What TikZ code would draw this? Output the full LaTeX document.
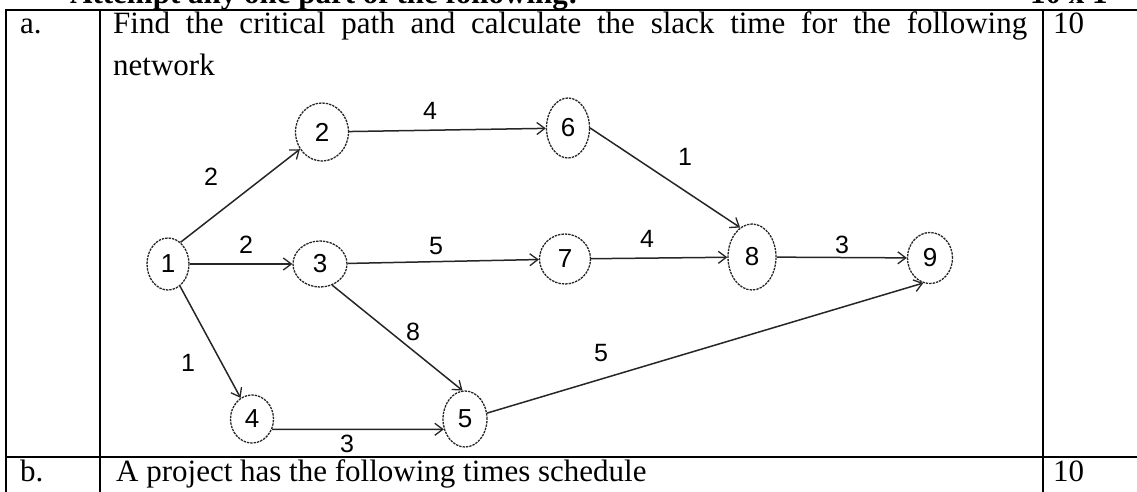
\documentclass[tikz,border=0pt]{standalone}
\usepackage{fontspec}
\setmainfont{Liberation Serif}
\newfontfamily\netfont{Liberation Sans}
\usetikzlibrary{arrows.meta,shapes.geometric}

\begin{document}
\begin{tikzpicture}[x=1pt,y=-1pt,
  rule/.style={line width=2pt},
  txt/.style={anchor=base west, inner sep=0pt, font=\fontsize{31}{37}\selectfont},
  head/.style={anchor=base west, inner sep=0pt, font=\bfseries\fontsize{31}{37}\selectfont},
  evt/.style={draw=black!85, ellipse, dash pattern=on 2.4pt off 1pt, line width=1.3pt,
              inner sep=0pt, font=\netfont\fontsize{26}{26}\selectfont},
  act/.style={draw=black!85, line width=1.5pt,
              -{Straight Barb[length=8pt,width=12pt,line width=1.3pt]}},
  dur/.style={inner sep=0pt, font=\netfont\fontsize{25}{25}\selectfont}]

\useasboundingbox (0,0) rectangle (1137,492);

% table rules
\draw[rule] (6,10) -- (1137,10);
\draw[rule] (6,457) -- (1137,457);
\draw[rule] (6,9) -- (6,492);
\draw[rule] (100,9) -- (100,492);
\draw[rule] (1043,9) -- (1043,492);

% heading (cut by the page edge)
\node[head] (hd) at (70,4) {Attempt any one part of the following:};
\node[head] (mk) at (1030,4) {10 x 1};

% row a
\node[txt] (la) at (20,34) {a.};
\node[txt] (qa) at (113,34) {\makebox[914pt][s]{Find the critical path and calculate the slack time for the following}};
\node[txt] (qa2) at (113,76) {network};
\node[txt] (ma) at (1053,34) {10};

% row b
\node[txt] (lb) at (20,481) {b.};
\node[txt] (qb) at (116,481) {A project has the following times schedule};
\node[txt] (mb) at (1053,481) {10};

% events
\node[evt, minimum width=42pt, minimum height=52pt] (n1) at (168,264) {1};
\node[evt, minimum width=53pt, minimum height=58pt] (n2) at (322,132) {2};
\node[evt, minimum width=54pt, minimum height=46pt] (n3) at (320,264) {3};
\node[evt, minimum width=43pt, minimum height=48pt] (n4) at (252,419) {4};
\node[evt, minimum width=44pt, minimum height=56pt] (n5) at (465,419) {5};
\node[evt, minimum width=43pt, minimum height=60pt] (n6) at (568,128) {6};
\node[evt, minimum width=51pt, minimum height=50pt] (n7) at (565,259) {7};
\node[evt, minimum width=48pt, minimum height=66pt] (n8) at (752,257) {8};
\node[evt, minimum width=45pt, minimum height=51pt] (n9) at (930,258) {9};

% activities
\draw[act] (n1.60) -- (n2);
\draw[act] (n1) -- (n3);
\draw[act] (n1) -- (n4);
\draw[act] (n2) -- (n6);
\draw[act] (n3) -- (n7);
\draw[act] (n3.-60) -- (n5.95);
\draw[act] (n4.-27) -- (n5.206);
\draw[act] (n5.15) -- (n9.-105);
\draw[act] (n6.east) -- (n8.112);
\draw[act] (n7) -- (n8);
\draw[act] (n8) -- (n9);

% durations
\node[dur] (d12) at (211,177) {2};
\node[dur] (d13) at (246,245) {2};
\node[dur] (d14) at (188,363) {1};
\node[dur] (d26) at (430,111) {4};
\node[dur] (d37) at (436,246) {5};
\node[dur] (d35) at (413,332) {8};
\node[dur] (d45) at (347,444) {3};
\node[dur] (d59) at (601,353) {5};
\node[dur] (d68) at (685,157) {1};
\node[dur] (d78) at (647,239) {4};
\node[dur] (d89) at (842,245) {3};
\end{tikzpicture}
\end{document}
